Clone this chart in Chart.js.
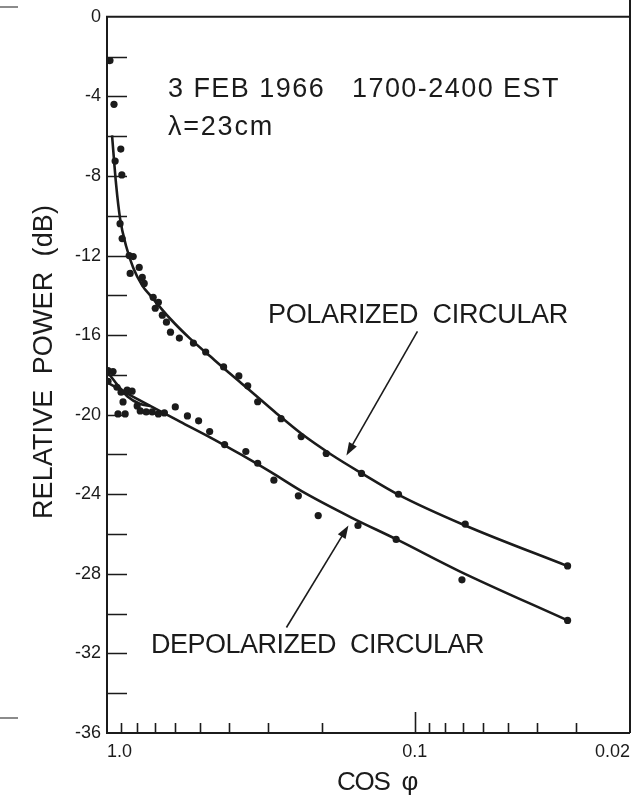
<!DOCTYPE html>
<html><head><meta charset="utf-8">
<script src="https://cdn.jsdelivr.net/npm/chart.js@4"></script>
<style>html,body{margin:0;padding:0;background:#fff;}</style>
</head><body>
<canvas id="c" width="644" height="796"></canvas>
<script>
// ---- data ----
const polX = [0.978, 0.949, 0.902, 0.941, 0.895, 0.907, 0.893, 0.847, 0.822, 0.841, 0.786, 0.768, 0.757, 0.708, 0.681, 0.697, 0.661, 0.641, 0.622, 0.582, 0.524, 0.478, 0.418, 0.373, 0.349, 0.324, 0.272, 0.234, 0.194, 0.149, 0.113, 0.0686, 0.0319];
const polY = [-2.2, -4.4, -6.65, -7.25, -7.95, -10.4, -11.15, -12.0, -12.05, -12.9, -12.6, -13.1, -13.4, -14.1, -14.35, -14.65, -15.0, -15.35, -15.85, -16.15, -16.4, -16.85, -17.6, -18.05, -18.55, -19.35, -20.2, -21.1, -21.95, -22.95, -24.0, -25.5, -27.6];

const depX = [0.9925, 0.956, 0.9925, 0.928, 0.900, 0.860, 0.829, 0.887, 0.921, 0.873, 0.798, 0.780, 0.746, 0.713, 0.681, 0.651, 0.600, 0.548, 0.504, 0.464, 0.415, 0.354, 0.324, 0.287, 0.239, 0.206, 0.153, 0.115, 0.0703, 0.0319];
const depY = [-17.78, -17.83, -18.32, -18.62, -18.87, -18.77, -18.82, -19.36, -19.96, -19.96, -19.56, -19.81, -19.86, -19.86, -19.96, -19.91, -19.61, -20.06, -20.31, -20.85, -21.5, -21.85, -22.44, -23.29, -24.08, -25.07, -25.57, -26.27, -28.3, -30.34];

const fitPolX = [0.963, 0.934, 0.907, 0.867, 0.822, 0.768, 0.724, 0.622, 0.536, 0.461, 0.396, 0.341, 0.2825, 0.234, 0.187, 0.149, 0.1128, 0.0686, 0.0319];
const fitPolY = [-5.96, -8.44, -10.13, -11.52, -12.61, -13.51, -14.0, -15.19, -16.19, -17.08, -17.97, -18.82, -19.91, -20.95, -22.0, -22.94, -24.03, -25.57, -27.61];

const fitDepX = [1.0, 0.841, 0.724, 0.5774, 0.461, 0.3676, 0.2933, 0.234, 0.1607, 0.1145, 0.0718, 0.0319];
const fitDepY = [-18.37, -19.02, -19.56, -20.36, -21.15, -22.0, -22.89, -23.83, -25.17, -26.27, -27.86, -30.34];

const fitDep2X = [1.0, 0.928, 0.86, 0.78, 0.724];
const fitDep2Y = [-17.83, -18.47, -19.07, -19.46, -19.56];

const xMajorTicks = [1, 0.1, 0.02];
const xMajorLabels = ['1.0', '0.1', '0.02'];
const xMinorTicks = [0.9, 0.8, 0.7, 0.6, 0.5, 0.4, 0.3, 0.2, 0.09, 0.08, 0.07, 0.06, 0.05, 0.04, 0.03];
const yMin = -36, yMax = 0, yStep = 2, yLabelStep = 4;

const titleText = '3 FEB 1966   1700-2400 EST';
const lambdaText = 'λ=23cm';
const polLabel = 'POLARIZED  CIRCULAR';
const depLabel = 'DEPOLARIZED  CIRCULAR';
const yTitle = 'RELATIVE  POWER  (dB)';
const xTitle = 'COS  φ';
// arrow tips in data coordinates
const polArrowTip = {x: 0.1668, y: -22.05};
const depArrowTip = {x: 0.1643, y: -25.57};

// ---- build ----
const zip = (xs, ys) => xs.map((x, i) => ({x, y: ys[i]}));
const INK = '#1b1b1b';
const FONT = '"Liberation Sans", Arial, sans-serif';

function fitText(ctx, str, x, y, size, width, align) {
  ctx.save();
  ctx.font = size + 'px ' + FONT;
  ctx.letterSpacing = '0px';
  const w = ctx.measureText(str).width;
  const ls = (width - w) / str.length;
  ctx.letterSpacing = ls.toFixed(2) + 'px';
  ctx.textAlign = 'left';
  ctx.textBaseline = 'alphabetic';
  let sx = x;
  if (align === 'center') sx = x - width / 2;
  ctx.fillText(str, sx, y);
  ctx.restore();
}

function arrow(ctx, x1, y1, x2, y2) {
  const ang = Math.atan2(y2 - y1, x2 - x1);
  const L = 13, W = 4.5;
  ctx.beginPath();
  ctx.moveTo(x1, y1);
  ctx.lineTo(x2 - Math.cos(ang) * L * 0.8, y2 - Math.sin(ang) * L * 0.8);
  ctx.lineWidth = 1.6;
  ctx.strokeStyle = INK;
  ctx.stroke();
  ctx.beginPath();
  ctx.moveTo(x2, y2);
  ctx.lineTo(x2 - Math.cos(ang) * L - Math.sin(ang) * W, y2 - Math.sin(ang) * L + Math.cos(ang) * W);
  ctx.lineTo(x2 - Math.cos(ang) * L + Math.sin(ang) * W, y2 - Math.sin(ang) * L - Math.cos(ang) * W);
  ctx.closePath();
  ctx.fillStyle = INK;
  ctx.fill();
}

const framePlugin = {
  id: 'frame',
  beforeDatasetsDraw(chart) {
    const {ctx, chartArea: a, scales} = chart;
    ctx.save();
    ctx.strokeStyle = INK;
    ctx.lineWidth = 2;
    ctx.beginPath();
    ctx.moveTo(a.left, a.top); ctx.lineTo(a.right, a.top);
    ctx.moveTo(a.right, 0); ctx.lineTo(a.right, a.bottom);
    ctx.moveTo(a.left, a.top - 1); ctx.lineTo(a.left, a.bottom + 1);
    ctx.moveTo(a.left - 1, a.bottom); ctx.lineTo(a.right, a.bottom);
    ctx.stroke();
    // y tick marks (inside)
    ctx.lineWidth = 1.5;
    ctx.beginPath();
    scales.y.ticks.forEach(t => {
      if (t.value === yMin || t.value === yMax) return;
      const py = Math.round(scales.y.getPixelForValue(t.value)) + 0.5;
      ctx.moveTo(a.left, py); ctx.lineTo(a.left + 20, py);
    });
    ctx.stroke();
    // x tick marks (inside)
    ctx.lineWidth = 1.6;
    ctx.beginPath();
    xMinorTicks.forEach(v => {
      const px = Math.round(scales.x.getPixelForValue(v)) + 0.5;
      ctx.moveTo(px, a.bottom); ctx.lineTo(px, a.bottom - 10);
    });
    xMajorTicks.forEach(v => {
      if (v === 1 || v === 0.02) return;
      const px = Math.round(scales.x.getPixelForValue(v)) + 0.5;
      ctx.moveTo(px, a.bottom); ctx.lineTo(px, a.bottom - 21);
    });
    ctx.stroke();
    // small stray marks at the left edge of the scan
    ctx.strokeStyle = '#666';
    ctx.lineWidth = 1.5;
    ctx.beginPath();
    ctx.moveTo(0, 7); ctx.lineTo(18, 7);
    ctx.moveTo(0, 718); ctx.lineTo(18, 718);
    ctx.stroke();
    ctx.restore();
  },
  afterDraw(chart) {
    const {ctx, scales} = chart;
    ctx.save();
    ctx.fillStyle = INK;
    fitText(ctx, titleText, 168, 97, 27, 392);
    fitText(ctx, lambdaText, 168, 135, 27, 106);
    fitText(ctx, polLabel, 268, 323, 27, 300);
    fitText(ctx, depLabel, 151, 653, 27, 333);
    fitText(ctx, xTitle, 337, 790, 26, 80);
    ctx.save();
    ctx.translate(52, 362);
    ctx.rotate(-Math.PI / 2);
    fitText(ctx, yTitle, 0, 0, 27, 314, 'center');
    ctx.restore();
    // arrows
    const p1x = scales.x.getPixelForValue(polArrowTip.x), p1y = scales.y.getPixelForValue(polArrowTip.y);
    arrow(ctx, p1x + 71, p1y - 124, p1x, p1y);
    const p2x = scales.x.getPixelForValue(depArrowTip.x), p2y = scales.y.getPixelForValue(depArrowTip.y);
    arrow(ctx, p2x - 62, p2y + 102, p2x, p2y);
    ctx.restore();
  }
};

const lineDs = (data) => ({
  type: 'scatter', data, showLine: true, cubicInterpolationMode: 'monotone',
  borderColor: INK, borderWidth: 2.6, pointRadius: 0, fill: false, order: 2
});
const ptDs = (data) => ({
  type: 'scatter', data, showLine: false,
  pointRadius: 3.6, pointBackgroundColor: INK, pointBorderWidth: 0, order: 1
});

new Chart(document.getElementById('c'), {
  type: 'scatter',
  data: {
    datasets: [
      lineDs(zip(fitPolX, fitPolY)),
      lineDs(zip(fitDepX, fitDepY)),
      lineDs(zip(fitDep2X, fitDep2Y)),
      ptDs(zip(polX, polY)),
      ptDs(zip(depX, depY))
    ]
  },
  options: {
    responsive: false,
    animation: false,
    devicePixelRatio: 1,
    layout: {padding: {top: 8, right: 14, left: 0, bottom: 0}},
    plugins: {legend: {display: false}, tooltip: {enabled: false}},
    scales: {
      x: {
        type: 'logarithmic', min: 0.02, max: 1, reverse: true,
        afterBuildTicks: s => {
          s.ticks = [...xMajorTicks, ...xMinorTicks].sort((a, b) => a - b).map(v => ({value: v}));
        },
        afterFit: s => { s.height = 63; },
        grid: {display: false, drawTicks: false},
        border: {display: false},
        ticks: {
          autoSkip: false, maxRotation: 0, align: 'inner', padding: 8,
          color: INK, font: {family: FONT, size: 18},
          callback: v => { const i = xMajorTicks.indexOf(v); return i >= 0 ? xMajorLabels[i] : ''; }
        }
      },
      y: {
        type: 'linear', min: yMin, max: yMax,
        afterFit: s => { s.width = 107; },
        grid: {display: false, drawTicks: false},
        border: {display: false},
        ticks: {
          stepSize: yStep, autoSkip: false, padding: 6,
          color: INK, font: {family: FONT, size: 18},
          callback: v => (v % yLabelStep === 0 ? String(v) : '')
        }
      }
    }
  },
  plugins: [framePlugin]
});
</script>
</body></html>
